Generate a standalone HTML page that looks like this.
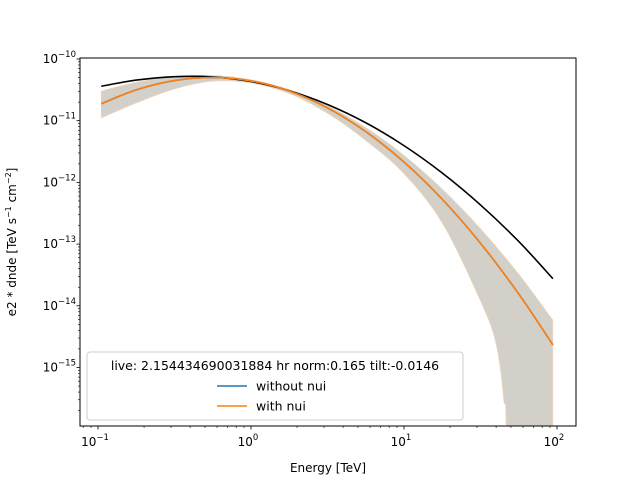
<!DOCTYPE html>
<html><head><meta charset="utf-8"><style>
html,body{margin:0;background:#fff;overflow:hidden;width:640px;height:480px}
svg{display:block;font-family:"DejaVu Sans","Liberation Sans",sans-serif}
</style></head><body>
<svg id="chart" width="640" height="480" viewBox="0 0 640 480">
<defs><clipPath id="clip"><rect x="80" y="58" width="496" height="368"/></clipPath></defs>
<rect width="640" height="480" fill="#fff"/>
<g id="plot" clip-path="url(#clip)"></g>
<g id="axes"></g>
<rect x="80" y="58" width="496" height="368" fill="none" stroke="#000" stroke-width="1"/>
<text x="328" y="472" font-size="12" text-anchor="middle">Energy [TeV]</text>
<text transform="translate(16,242) rotate(-90)" font-size="12" text-anchor="middle">e2 * dnde [TeV s<tspan dy="-5" font-size="8">−1</tspan><tspan dy="5"> cm</tspan><tspan dy="-5" font-size="8">−2</tspan><tspan dy="5">]</tspan></text>
<g>
<rect x="87" y="352" width="376" height="68" rx="3" fill="#fff" fill-opacity="0.8" stroke="#ccc"/>
<text x="275" y="370" font-size="12.5" text-anchor="middle">live: 2.154434690031884 hr norm:0.165 tilt:-0.0146</text>
<line x1="217" y1="386" x2="247" y2="386" stroke="#1f77b4" stroke-width="1.5"/>
<text x="256" y="390.5" font-size="12.5">without nui</text>
<line x1="217" y1="406" x2="247" y2="406" stroke="#ff7f0e" stroke-width="1.5"/>
<text x="256" y="410.5" font-size="12.5">with nui</text>
</g>
</svg>
<script>
const energies=[0.105,0.178,0.316,0.562,1,1.778,3.162,5.623,10,17.78,31.62,56.23,94];
const blackLog=[-10.442,-10.342,-10.286,-10.290,-10.365,-10.514,-10.737,-11.033,-11.404,-11.848,-12.365,-12.957,-13.56];
const orangeLog=[-10.726,-10.50,-10.35,-10.30,-10.355,-10.519,-10.793,-11.177,-11.670,-12.273,-12.986,-13.808,-14.634];
const bandUpperLog=[-10.519,-10.376,-10.287,-10.267,-10.334,-10.497,-10.756,-11.111,-11.561,-12.108,-12.750,-13.488,-14.232];
const lowerEnergies=[0.105,0.178,0.316,0.562,1,1.78,3.16,5.62,10,17.8,31.6,39.8,44.7,46.8,48.5];
const bandLowerLog=[-10.956,-10.713,-10.486,-10.36,-10.39,-10.56,-10.88,-11.32,-11.86,-12.66,-13.92,-14.6,-15.5,-16.6,-25];
const xTicks=[0.1,1,10,100];
const xTickLabels=["10","10","10","10"];
const xTickExp=["−1","0","1","2"];
const yTicks=[-10,-11,-12,-13,-14,-15];
const yTickExp=["−10","−11","−12","−13","−14","−15"];

const NS="http://www.w3.org/2000/svg";
const X0=80,X1=576,Y0=58,Y1=426;
const pxDec=153;
function xs(e){return 98+(Math.log10(e)+1)*pxDec;}
function ys(l){return 59+(-10-l)*61.7;}
function pts(es,arr){return es.map((e,i)=>[xs(e),ys(arr[i])]);}
function smooth(p,move){let d=(move?"M":"L")+p[0][0]+","+p[0][1];
 for(let i=0;i<p.length-1;i++){const a=p[Math.max(i-1,0)],b=p[i],c=p[i+1],n=p[Math.min(i+2,p.length-1)];
 d+="C"+(b[0]+(c[0]-a[0])/6)+","+(b[1]+(c[1]-a[1])/6)+" "+(c[0]-(n[0]-b[0])/6)+","+(c[1]-(n[1]-b[1])/6)+" "+c[0]+","+c[1];}
 return d;}
function mk(tag,attrs,parent){const el=document.createElementNS(NS,tag);for(const k in attrs)el.setAttribute(k,attrs[k]);parent.appendChild(el);return el;}
const plot=document.getElementById("plot"),axes=document.getElementById("axes");
const up=pts(energies,bandUpperLog),lo=pts(lowerEnergies,bandLowerLog).reverse();
const lastUp=up[up.length-1];
const band=mk("path",{d:smooth(up,true)+"L"+lastUp[0]+",2000L"+lo[0][0]+",2000"+smooth(lo,false)+"Z",fill:"#d3d0c9",stroke:"#fbd5b0","stroke-width":"0.6"},plot);


const bl=mk("path",{d:smooth(pts(energies,blackLog),true),fill:"none",stroke:"#000","stroke-width":"1.6"},plot);


const blu=mk("path",{d:smooth(pts(energies,orangeLog),true),fill:"none",stroke:"#1f77b4","stroke-width":"1.6"},plot);


const or=mk("path",{d:smooth(pts(energies,orangeLog),true),fill:"none",stroke:"#ff7f0e","stroke-width":"1.6"},plot);


xTicks.forEach((t,i)=>{const x=xs(t);
 mk("line",{x1:x,x2:x,y1:Y1,y2:Y1+3.5,stroke:"#000","stroke-width":"0.8"},axes);
 const tx=mk("text",{x:x-3,y:Y1+20,"font-size":"12","text-anchor":"middle"},axes);
 
 
 tx.innerHTML=xTickLabels[i]+'<tspan dy="-6" font-size="8.5">'+xTickExp[i]+'</tspan>';
});
for(let d=-2;d<=2;d++)for(let m=2;m<10;m++){const x=xs(m*Math.pow(10,d));if(x>X0&&x<X1)mk("line",{x1:x,x2:x,y1:Y1,y2:Y1+2,stroke:"#000","stroke-width":"0.6"},axes);}
yTicks.forEach((t,i)=>{const y=ys(t);
 mk("line",{x1:X0,x2:X0-3.5,y1:y,y2:y,stroke:"#000","stroke-width":"0.8"},axes);
 const tx=mk("text",{x:X0-4,y:y+4,"font-size":"12","text-anchor":"end"},axes);
 
 
 tx.innerHTML='10<tspan dy="-6" font-size="8.5">'+yTickExp[i]+'</tspan>';
});
for(let d=-16;d<=-10;d++)for(let m=2;m<10;m++){const y=ys(d+Math.log10(m));if(y>Y0&&y<Y1)mk("line",{x1:X0,x2:X0-2,y1:y,y2:y,stroke:"#000","stroke-width":"0.6"},axes);}
</script>
</body></html>
